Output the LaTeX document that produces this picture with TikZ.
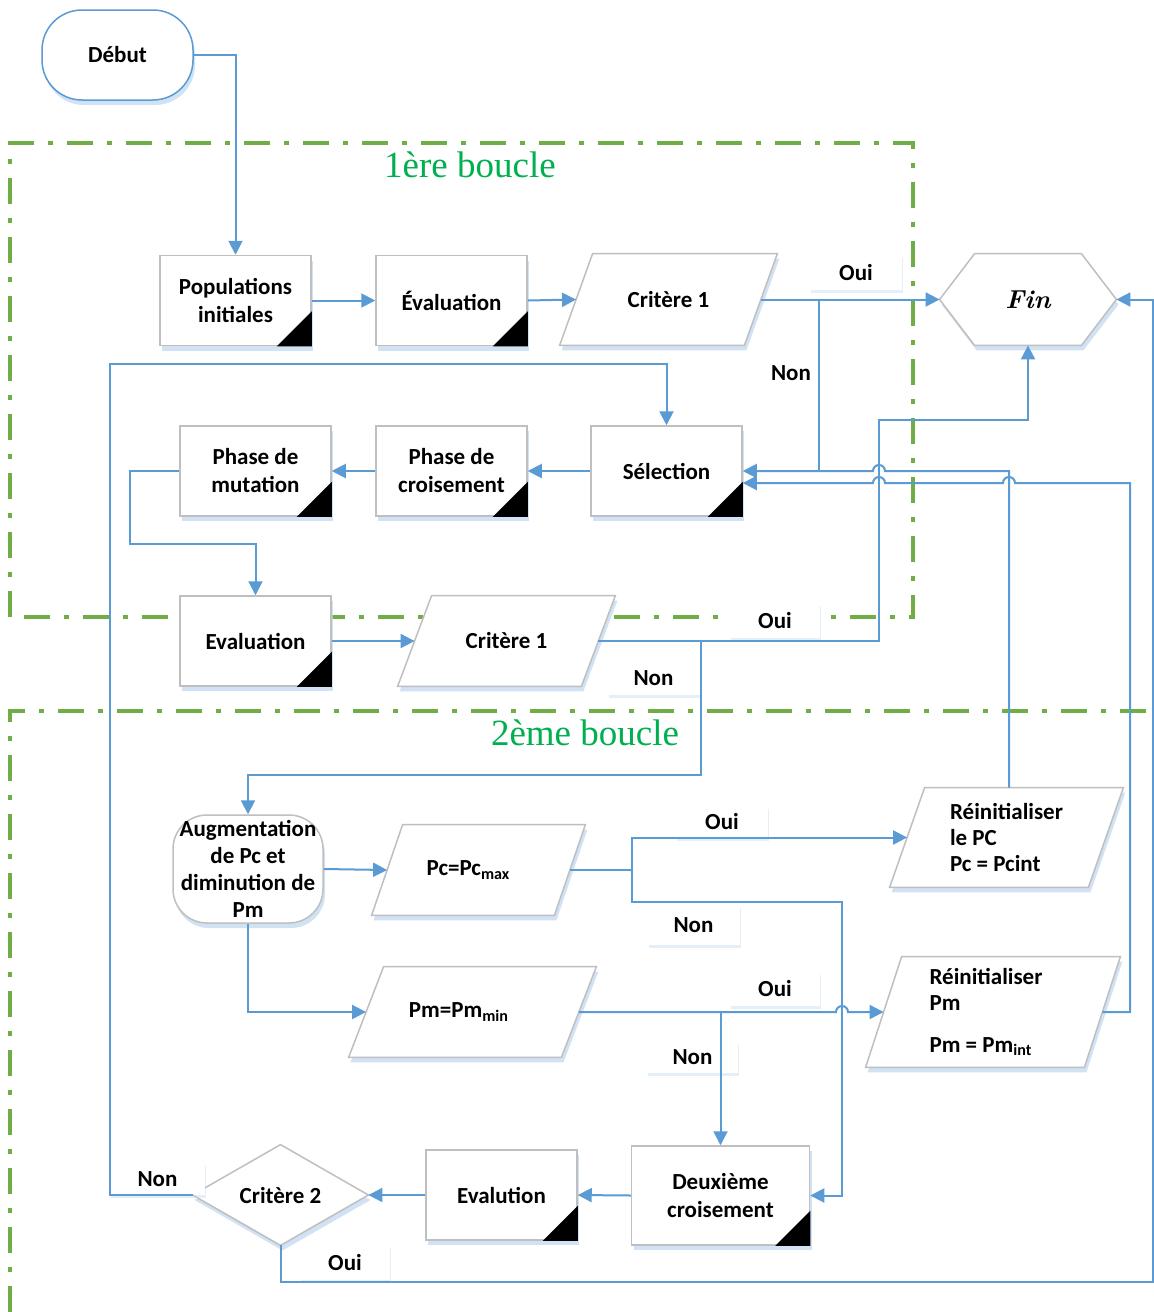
\documentclass[tikz,border=0pt]{standalone}
\usepackage{fontspec}
\newfontfamily\cb{Carlito}
\newfontfamily\tms{Liberation Serif}
\usetikzlibrary{arrows.meta,shadows,calc}
\definecolor{cblue}{HTML}{5B9BD5}
\definecolor{bgray}{HTML}{BFBFBF}
\definecolor{fgreen}{HTML}{70AD47}
\definecolor{tgreen}{HTML}{00B050}
\definecolor{shblue}{HTML}{BDD7EE}
\pgfdeclarelayer{framelayer}
\pgfdeclarelayer{bglayer}
\pgfsetlayers{framelayer,bglayer,main}
\newcommand{\corner}[1]{\fill[black] (#1.south east) -- ++(-17.5pt,0pt) -- ++(17.5pt,17.5pt) -- cycle;}
\newcommand{\parashape}[2]{\begin{pgfonlayer}{bglayer}\path[outline] ([xshift=#2]#1.north west) -- (#1.north east) -- ([xshift=-#2]#1.south east) -- (#1.south west) -- cycle;\end{pgfonlayer}}
\begin{document}
\begin{tikzpicture}[x=0.5pt,y=-0.5pt,
  txt/.style={font={\cb\bfseries\fontsize{11.5pt}{14pt}\selectfont}, align=center, inner sep=0pt},
  shd/.style={drop shadow={shadow xshift=1pt,shadow yshift=-2.5pt,fill=shblue,opacity=0.7}},
  procbox/.style={txt, rectangle, draw=bgray, line width=0.75pt, fill=white, shd, minimum width=75.5pt, minimum height=45pt},
  geo/.style={txt, rectangle, draw=none},
  outline/.style={draw=bgray, line width=0.75pt, fill=white, shd},
  lbl/.style={txt, fill=white, minimum width=46pt, minimum height=17pt, drop shadow={shadow xshift=0.5pt,shadow yshift=-1.5pt,fill=shblue,opacity=0.4}},
  conn/.style={draw=cblue, line width=1pt, -{Triangle[length=7pt,width=7pt]}},
  wire/.style={draw=cblue, line width=1pt},
  loopframe/.style={draw=fgreen, line width=1.6pt, dash pattern=on 13pt off 7pt on 2.5pt off 7pt},
  looptitle/.style={font={\tms\fontsize{18.5pt}{20pt}\selectfont}, text=tgreen, inner sep=0pt}
]
\useasboundingbox (0,0) rectangle (1154,1312);
\begin{pgfonlayer}{framelayer}
\fill[white] (0,0) rectangle (1154,1312);
\draw[loopframe] (10,617) -- (10,143) -- (913,143) -- (913,617) -- cycle;
\draw[loopframe] (10,1312) -- (10,711) -- (1154,711);
\end{pgfonlayer}
\node[looptitle] (t1) at (470,165) {1ère boucle};
\node[looptitle] (t2) at (585,733) {2ème boucle};

% nodes
\node[txt, rectangle, rounded corners=20pt, draw=cblue, line width=0.75pt, fill=white, shd, minimum width=75.5pt, minimum height=45pt] (debut) at (117.5,55) {Début};
\node[procbox] (pop) at (235.5,300.5) {Populations\\initiales}; \corner{pop}
\node[procbox] (ev1) at (451.5,300.5) {Évaluation}; \corner{ev1}
\node[geo, minimum width=108.5pt, minimum height=45.5pt] (c1) at (668.5,299.5) {Critère 1}; \parashape{c1}{16.5pt}
\node[geo, minimum width=88pt, minimum height=45.5pt, font={\rmfamily\bfseries\itshape\fontsize{13pt}{15pt}\selectfont}] (fin) at (1028,299.5) {Fin};
\begin{pgfonlayer}{bglayer}
\path[outline] (fin.west) -- ([xshift=17.5pt]fin.north west) -- ([xshift=-17.5pt]fin.north east) -- (fin.east) -- ([xshift=-17.5pt]fin.south east) -- ([xshift=17.5pt]fin.south west) -- cycle;
\end{pgfonlayer}
\node[procbox] (sel) at (666.5,471) {Sélection}; \corner{sel}
\node[procbox] (pcr) at (451.5,471) {Phase de\\croisement}; \corner{pcr}
\node[procbox] (pmu) at (255.5,471) {Phase de\\mutation}; \corner{pmu}
\node[procbox] (ev2) at (255.5,641) {Evaluation}; \corner{ev2}
\node[geo, minimum width=108.5pt, minimum height=45pt] (c1b) at (506.5,641) {Critère 1}; \parashape{c1b}{17pt}
\node[txt, rectangle, rounded corners=17pt, draw=bgray, line width=0.75pt, fill=white, shd, minimum width=75pt, minimum height=54pt, font={\cb\bfseries\fontsize{11.5pt}{13.5pt}\selectfont}] (aug) at (248,869) {Augmentation\\de Pc et\\diminution de\\Pm};
\node[geo, minimum width=106.5pt, minimum height=45pt] (pcm) at (478.5,870) {Pc=Pc\textsubscript{max}\hspace*{10pt}}; \parashape{pcm}{15.5pt}
\node[geo, minimum width=123.5pt, minimum height=45pt] (pmm) at (472.5,1012) {Pm=Pm\textsubscript{min}\hspace*{13.5pt}}; \parashape{pmm}{17.5pt}
\node[geo, align=left, minimum width=116.5pt, minimum height=49.5pt, font={\cb\bfseries\fontsize{11.5pt}{13pt}\selectfont}] (reipc) at (1006.5,837.5) {Réinitialiser\\le PC\\Pc = Pcint}; \parashape{reipc}{17.5pt}
\node[geo, align=left, minimum width=127pt, minimum height=55pt, font={\cb\bfseries\fontsize{11.5pt}{13pt}\selectfont}] (reipm) at (993,1012) {Réinitialiser\hspace*{7pt}\\Pm\\[8pt]Pm = Pm\textsubscript{int}}; \parashape{reipm}{18pt}
\node[procbox, minimum width=89pt, minimum height=49.5pt] (deux) at (720.5,1195.5) {Deuxième\\croisement}; \corner{deux}
\node[procbox] (evu) at (501.5,1195) {Evalution}; \corner{evu}
\node[geo, minimum width=87.5pt, minimum height=50pt] (crit2) at (280.5,1195) {Critère 2};
\begin{pgfonlayer}{bglayer}
\path[outline] (crit2.west) -- (crit2.north) -- (crit2.east) -- (crit2.south) -- cycle;
\end{pgfonlayer}

% labels
\node[lbl, minimum height=17.5pt] (lo1) at (856,272.5) {Oui};
\node[txt] (ln1) at (791,373) {Non};
\node[lbl, minimum height=17.5pt, minimum width=45pt] (lo2) at (775,620.5) {Oui};
\node[lbl, minimum height=16.5pt] (ln2) at (653.5,678.5) {Non};
\node[lbl, minimum height=16pt] (lo3) at (722,822) {Oui};
\node[lbl, minimum height=20pt] (ln3) at (693.5,925) {Non};
\node[lbl, minimum height=17pt, minimum width=45pt] (lo4) at (775,989) {Oui};
\node[lbl, minimum height=15.5pt, minimum width=45.5pt] (ln4) at (692.5,1057.5) {Non};
\node[lbl, minimum height=16pt, minimum width=47.5pt] (ln5) at (157.5,1179) {Non};
\node[lbl, minimum height=17.5pt, minimum width=45pt] (lo5) at (345,1262) {Oui};

% connectors
\draw[conn] (debut.east) -| (pop.north);
\draw[conn] (pop.east) -- (ev1.west);
\draw[conn] (ev1.east) -- ([xshift=8.25pt]c1.west);
\draw[conn] ([xshift=-8.25pt]c1.east) -- (fin.west);
\coordinate (j1) at (819,299.5);
\coordinate (j1b) at (819,471);
\draw[wire] (j1) -- (j1b);
\coordinate (rc) at (1009,471);
\draw[conn] ([xshift=1.25pt]reipc.north) -- (rc) -- (885,471) arc[start angle=0,end angle=180,radius=3pt] -- (sel.east);
\coordinate (r1) at (1130,1012);
\coordinate (r2) at (1130,483);
\draw[conn] ([xshift=-9pt]reipm.east) -- (r1) -- (r2) -- (1015,483) arc[start angle=0,end angle=180,radius=3pt] -- (885,483) arc[start angle=0,end angle=180,radius=3pt] -- ([yshift=-6pt]sel.east);
\draw[conn] (sel.west) -- (pcr.east);
\draw[conn] (pcr.west) -- (pmu.east);
\coordinate (m1) at (130,544);
\draw[conn] (pmu.west) -| (m1) -| (ev2.north);
\draw[conn] (ev2.east) -- ([xshift=8.5pt]c1b.west);
\coordinate (f1) at (879,420);
\draw[conn] ([xshift=-8.5pt]c1b.east) -| (f1) -| (fin.south);
\coordinate (j2) at (701,641);
\coordinate (j3) at (701,775);
\draw[conn] (j2) -- (j3) -| (aug.north);
\draw[conn] (aug.east) -- ([xshift=7.75pt]pcm.west);
\coordinate (j4) at (632,870);
\draw[wire] ([xshift=-7.75pt]pcm.east) -- (j4);
\draw[conn] (j4) |- ([xshift=8.75pt]reipc.west);
\coordinate (j5) at (842,902);
\draw[conn] (j4) |- (j5) |- (deux.east);
\draw[conn] (aug.south) |- ([xshift=8.75pt]pmm.west);
\coordinate (j6) at (720.5,1012);
\draw[conn] ([xshift=-8.75pt]pmm.east) -- (836,1012) arc[start angle=180,end angle=0,radius=3pt] -- ([xshift=9pt]reipm.west);
\draw[conn] (j6) -- (deux.north);
\draw[conn] (deux.west) -- (evu.east);
\draw[conn] (evu.west) -- (crit2.east);
\coordinate (k1) at (110,364);
\draw[conn] (crit2.west) -| (k1) -| (sel.north);
\coordinate (k2) at (1153,1282);
\draw[conn] (crit2.south) |- (k2) |- (fin.east);
\end{tikzpicture}
\end{document}
